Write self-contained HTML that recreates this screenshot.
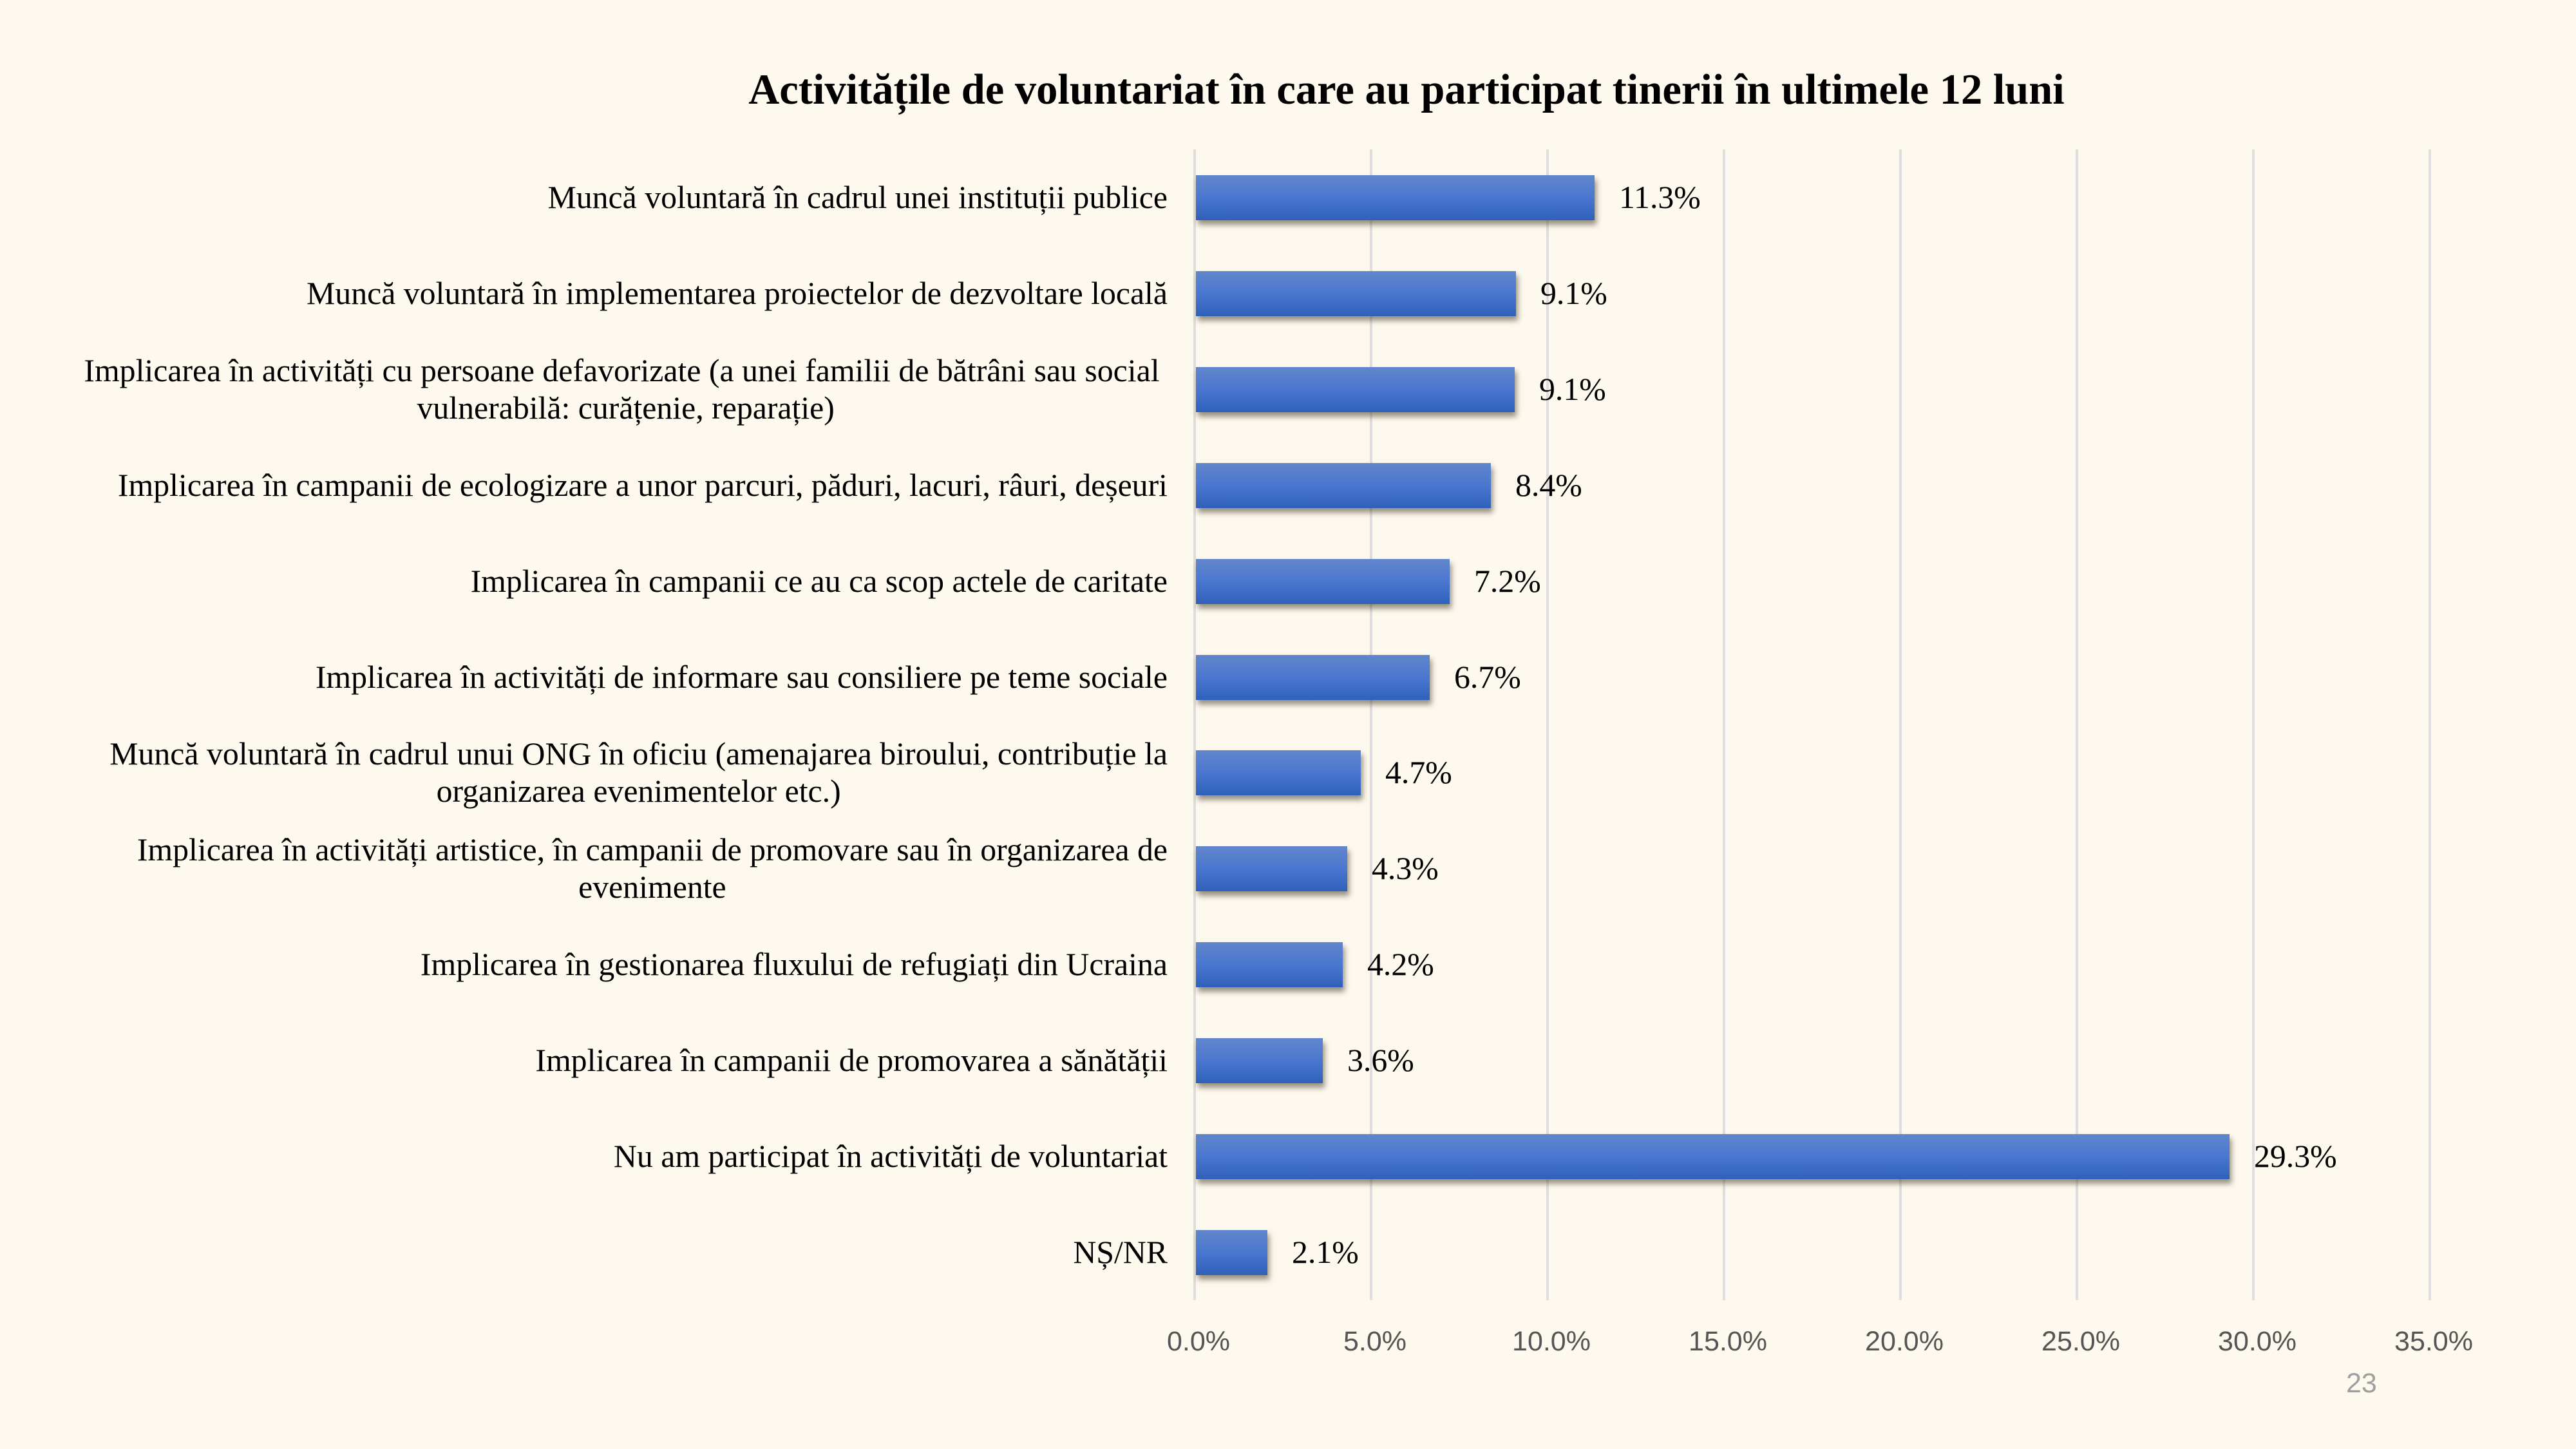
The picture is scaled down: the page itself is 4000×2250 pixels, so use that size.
<!DOCTYPE html>
<html>
<head>
<meta charset="utf-8">
<style>
  html, body { margin:0; padding:0; }
  body { width:4000px; height:2250px; background:#fdf9ee; position:relative; overflow:hidden; }
  .grid { position:absolute; top:232px; height:1787px; width:4px; background:#dedede; }
  .bar { position:absolute; left:1857px; height:70px;
         background:linear-gradient(to bottom, #6286cc 0%, #4a77cf 50%, #2f60ba 100%);
         box-shadow:3px 7px 8px rgba(70,60,40,0.55); }
  .lab { position:absolute; font-family:"Liberation Serif", serif; font-size:49.8px; line-height:58px;
         color:#000; text-align:center; white-space:nowrap; right:2187px; }
  .val { position:absolute; font-family:"Liberation Serif", serif; font-size:49.8px; line-height:58px;
         color:#000; white-space:nowrap; }
  .tick { position:absolute; top:2062px; font-family:"Liberation Sans", sans-serif; font-size:43px;
          line-height:43px; color:#555555; white-space:nowrap; transform:translateX(-50%); }
  .title { position:absolute; top:106px; left:2184px; transform:translateX(-50%);
           font-family:"Liberation Serif", serif; font-weight:bold; font-size:66.5px; line-height:67px;
           color:#000; white-space:nowrap; }
  .pg { position:absolute; left:3643px; top:2127px; font-family:"Liberation Sans", sans-serif;
        font-size:43px; line-height:43px; color:#9f9f9f; }
</style>
</head>
<body>
<div class="title">Activitățile de voluntariat în care au participat tinerii în ultimele 12 luni</div>

<!-- gridlines -->
<div class="grid" style="left:1853px"></div>
<div class="grid" style="left:2127px"></div>
<div class="grid" style="left:2401px"></div>
<div class="grid" style="left:2675px"></div>
<div class="grid" style="left:2949px"></div>
<div class="grid" style="left:3223px"></div>
<div class="grid" style="left:3497px"></div>
<div class="grid" style="left:3771px"></div>

<!-- bars -->
<div class="bar" style="top:272px;width:619px"></div>
<div class="bar" style="top:421px;width:497px"></div>
<div class="bar" style="top:570px;width:495px"></div>
<div class="bar" style="top:719px;width:458px"></div>
<div class="bar" style="top:868px;width:394px"></div>
<div class="bar" style="top:1017px;width:363px"></div>
<div class="bar" style="top:1165px;width:256px"></div>
<div class="bar" style="top:1314px;width:235px"></div>
<div class="bar" style="top:1463px;width:228px"></div>
<div class="bar" style="top:1612px;width:197px"></div>
<div class="bar" style="top:1761px;width:1605px"></div>
<div class="bar" style="top:1910px;width:111px"></div>

<!-- value labels -->
<div class="val" style="left:2514px;top:278px">11.3%</div>
<div class="val" style="left:2392px;top:427px">9.1%</div>
<div class="val" style="left:2390px;top:576px">9.1%</div>
<div class="val" style="left:2353px;top:725px">8.4%</div>
<div class="val" style="left:2289px;top:874px">7.2%</div>
<div class="val" style="left:2258px;top:1023px">6.7%</div>
<div class="val" style="left:2151px;top:1171px">4.7%</div>
<div class="val" style="left:2130px;top:1320px">4.3%</div>
<div class="val" style="left:2123px;top:1469px">4.2%</div>
<div class="val" style="left:2092px;top:1618px">3.6%</div>
<div class="val" style="left:3500px;top:1767px">29.3%</div>
<div class="val" style="left:2006px;top:1916px">2.1%</div>

<!-- category labels -->
<div class="lab" style="top:278px">Muncă voluntară în cadrul unei instituții publice</div>
<div class="lab" style="top:427px">Muncă voluntară în implementarea proiectelor de dezvoltare locală</div>
<div class="lab" style="top:547px">Implicarea în activități cu persoane defavorizate (a unei familii de bătrâni sau social&nbsp;<br>vulnerabilă: curățenie, reparație)</div>
<div class="lab" style="top:725px">Implicarea în campanii de ecologizare a unor parcuri, păduri, lacuri, râuri, deșeuri</div>
<div class="lab" style="top:874px">Implicarea în campanii ce au ca scop actele de caritate</div>
<div class="lab" style="top:1023px">Implicarea în activități de informare sau consiliere pe teme sociale</div>
<div class="lab" style="top:1142px">Muncă voluntară în cadrul unui ONG în oficiu (amenajarea biroului, contribuție la<br>organizarea evenimentelor etc.)</div>
<div class="lab" style="top:1291px">Implicarea în activități artistice, în campanii de promovare sau în organizarea de<br>evenimente</div>
<div class="lab" style="top:1469px">Implicarea în gestionarea fluxului de refugiați din Ucraina</div>
<div class="lab" style="top:1618px">Implicarea în campanii de promovarea a sănătății</div>
<div class="lab" style="top:1767px">Nu am participat în activități de voluntariat</div>
<div class="lab" style="top:1916px">NȘ/NR</div>

<!-- x axis ticks -->
<div class="tick" style="left:1861px">0.0%</div>
<div class="tick" style="left:2135px">5.0%</div>
<div class="tick" style="left:2409px">10.0%</div>
<div class="tick" style="left:2683px">15.0%</div>
<div class="tick" style="left:2957px">20.0%</div>
<div class="tick" style="left:3231px">25.0%</div>
<div class="tick" style="left:3505px">30.0%</div>
<div class="tick" style="left:3779px">35.0%</div>

<div class="pg">23</div>
</body>
</html>
